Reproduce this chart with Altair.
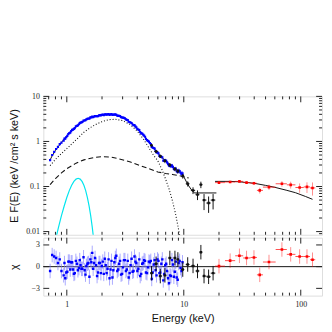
import altair as alt
import pandas as pd

# ---------------- data ----------------
blue_e = [0.72, 0.75, 0.78, 0.81, 0.84, 0.87, 0.90, 0.94, 0.97, 1.01, 1.05, 1.09, 1.13, 1.17, 1.22, 1.27, 1.31, 1.36,
          1.42, 1.47, 1.53, 1.59, 1.65, 1.71, 1.78, 1.85, 1.92, 1.99, 2.07, 2.15, 2.23, 2.32, 2.41, 2.50, 2.60, 2.70,
          2.80, 2.91, 3.02, 3.14, 3.26, 3.38, 3.51, 3.65, 3.79, 3.93, 4.09, 4.24, 4.41, 4.58, 4.75, 4.94, 5.13, 5.32,
          5.53, 5.74, 5.96, 6.19, 6.43, 6.68, 6.94, 7.20, 7.48, 7.77, 8.07, 8.38, 8.70, 9.04, 9.39, 9.75]
blue_f = [0.385, 0.50, 0.59, 0.68, 0.76, 0.87, 0.94, 1.04, 1.16, 1.33, 1.53, 1.70, 1.83, 1.98, 2.22, 2.41, 2.61, 2.73,
          2.92, 3.09, 3.23, 3.41, 3.57, 3.58, 3.65, 3.66, 3.83, 3.87, 3.84, 3.97, 3.98, 3.87, 4.04, 3.92, 3.97, 3.74,
          3.69, 3.45, 3.37, 3.26, 3.00, 2.74, 2.63, 2.38, 2.30, 2.05, 1.83, 1.61, 1.49, 1.35, 1.14, 1.03, 0.925, 0.76,
          0.715, 0.62, 0.575, 0.48, 0.455, 0.375, 0.382, 0.342, 0.29, 0.28, 0.274, 0.242, 0.218, 0.226, 0.203, 0.196]
blue_rel = [0.05, 0.05, 0.04, 0.04, 0.04, 0.04, 0.035, 0.035, 0.03, 0.03, 0.03, 0.03, 0.025, 0.025, 0.025, 0.025, 0.025, 0.025,
            0.025, 0.025, 0.025, 0.025, 0.025, 0.025, 0.025, 0.025, 0.025, 0.025, 0.025, 0.025, 0.025, 0.025, 0.025, 0.025, 0.025, 0.025,
            0.025, 0.025, 0.03, 0.03, 0.03, 0.03, 0.03, 0.035, 0.035, 0.035, 0.04, 0.04, 0.04, 0.045, 0.045, 0.05, 0.05, 0.055,
            0.06, 0.06, 0.065, 0.07, 0.07, 0.075, 0.08, 0.08, 0.085, 0.09, 0.09, 0.1, 0.1, 0.11, 0.11, 0.12]
blue_chi = [-0.6, 1.6, 1.4, 1.2, 0.5, 1.0, -0.6, -1.2, -1.6, -0.7, 0.7, 0.6, -0.4, -0.9, 0.4, -0.2, 0.2, -0.3,
            -0.5, 0.1, 0.5, 1.0, 1.9, 0.5, 0.2, -0.8, 0.5, 0.1, -1.0, 0.2, -0.3, -1.6, 0.8, -0.5, 1.2, -0.6,
            0.4, -1.1, -0.1, 0.9, -0.4, -1.5, 0.2, -0.7, 1.4, 0.5, -0.3, -1.3, 0.4, 0.9, -0.8, -0.1, 0.6, -1.7,
            0.3, -0.5, 1.0, -0.9, 0.4, -1.9, 0.2, -0.6, -2.3, -1.3, 0.3, -0.7, -1.5, 0.5, -0.2, 0.6]

# second interleaved set of blue channels
blue2_e = [0.955, 0.99, 1.03, 1.07, 1.11, 1.15, 1.195, 1.245, 1.29, 1.335, 1.39, 1.445, 1.50, 1.56, 1.62, 1.68,
           1.745, 1.815, 1.885, 1.955, 2.03, 2.11, 2.19, 2.275, 2.365, 2.455, 2.55, 2.65, 2.75, 2.855, 2.965, 3.08,
           3.2, 3.32, 3.445, 3.58, 3.72, 3.86, 4.01, 4.165, 4.325, 4.495, 4.665, 4.845, 5.035, 5.225, 5.425, 5.635,
           5.85, 6.075, 6.31, 6.555, 6.81, 7.07, 7.34, 7.625, 7.92, 8.225, 8.54, 8.87, 9.215, 9.57]
blue2_f = [1.15, 1.25, 1.45, 1.57, 1.80, 1.90, 2.15, 2.28, 2.55, 2.66, 2.91, 2.97, 3.16, 3.22, 3.43, 3.48,
           3.66, 3.62, 3.79, 3.78, 3.93, 3.99, 3.93, 4.05, 3.97, 3.89, 3.94, 3.90, 3.70, 3.63, 3.40, 3.33,
           3.08, 2.96, 2.68, 2.57, 2.29, 2.15, 1.90, 1.79, 1.53, 1.42, 1.27, 1.07, 0.99, 0.87, 0.73, 0.69,
           0.57, 0.545, 0.46, 0.445, 0.38, 0.37, 0.315, 0.29, 0.295, 0.245, 0.25, 0.21, 0.22, 0.19]
blue2_rel = [0.03, 0.03, 0.03, 0.03, 0.03, 0.03, 0.03,
             0.025, 0.025, 0.025, 0.025, 0.025, 0.025, 0.025, 0.025, 0.025, 0.025, 0.025, 0.025,
             0.025, 0.025, 0.025, 0.025, 0.025, 0.025, 0.025, 0.025, 0.025, 0.025, 0.025, 0.025,
             0.03, 0.03, 0.03, 0.03, 0.03, 0.03, 0.03, 0.03,
             0.04, 0.04, 0.04, 0.04, 0.04,
             0.055, 0.055, 0.055, 0.055, 0.055,
             0.07, 0.07, 0.07, 0.07,
             0.085, 0.085, 0.085, 0.085,
             0.1, 0.1, 0.1,
             0.115, 0.115]
blue2_chi = [0.5, -0.8, 0.7, -0.4, 0.6, -1.0, 0.8, -0.5, 0.9, -0.3, 1.3, -1.1, 0.4, -1.4, 0.6, -0.3,
             1.2, -1.3, 0.5, -0.9, 0.7, 1.1, -0.9, 1.0, -0.4, -1.5, 0.6, 1.5, -0.4, 0.8, -1.0, 0.9,
             -0.6, 0.8, -0.9, 1.1, -0.6, 0.7, -0.6, 1.0, -1.0, 0.5, 0.8, -0.9, 0.7, 0.8, -0.8, 0.9,
             -1.2, 0.8, -0.8, 1.0, -1.0, 0.4, -1.6, -1.2, 0.9, -1.4, 0.7, -1.8, 0.8, -0.6]

black_e = [5.3, 5.8, 6.3, 6.9, 7.6, 8.4, 8.9, 9.8, 10.8, 12.0, 13.1, 14.0, 14.9, 16.3, 17.8]
black_elo = [5.15, 5.6, 6.1, 6.7, 7.35, 8.15, 8.65, 9.5, 10.4, 11.5, 12.6, 13.6, 14.45, 15.6, 17.0]
black_ehi = [5.45, 6.0, 6.5, 7.1, 7.85, 8.65, 9.15, 10.1, 11.2, 12.5, 13.6, 14.45, 15.6, 17.0, 18.6]
black_f = [0.82, 0.6, 0.47, 0.37, 0.3, 0.245, 0.22, 0.17, 0.115, 0.082, 0.066, 0.11, 0.05, 0.043, 0.05]
black_flo = [0.77, 0.56, 0.43, 0.33, 0.27, 0.22, 0.195, 0.15, 0.1, 0.068, 0.05, 0.092, 0.03, 0.026, 0.031]
black_fhi = [0.87, 0.64, 0.51, 0.41, 0.33, 0.27, 0.245, 0.19, 0.13, 0.096, 0.082, 0.128, 0.068, 0.06, 0.068]
black_chi = [-0.9, 0.4, -1.3, -1.2, 1.2, 1.2, 1.0, -0.4, 0.3, 0.1, -0.6, 2.0, -1.3, -1.4, -0.9]

red_e = [20, 24.9, 29.9, 34.4, 39.8, 44.6, 53.5, 69, 82, 97.8, 113, 126]
red_elo = [18.5, 22.5, 27.5, 32.2, 37.2, 42.2, 47.5, 61, 76, 90, 106, 120]
red_ehi = [22.5, 27.5, 32.2, 37.2, 42.2, 47.5, 61, 76, 90, 106, 120, 133]
red_f = [0.122, 0.126, 0.13, 0.122, 0.118, 0.082, 0.097, 0.115, 0.109, 0.095, 0.098, 0.093]
red_err = [0.005, 0.006, 0.007, 0.008, 0.009, 0.012, 0.013, 0.016, 0.019, 0.022, 0.026, 0.03]
red_chi = [0.07, 0.83, 1.5, 1.2, 1.27, -1.13, 0.64, 2.37, 1.7, 1.4, 1.4, 0.96]

# total model, one segment per instrument
mod_blue_e = [0.72, 0.75, 0.8, 0.85, 0.9, 0.95, 1.0, 1.1, 1.2, 1.3, 1.4, 1.5, 1.6, 1.8, 2.0, 2.2, 2.4, 2.6, 2.8,
              3.0, 3.3, 3.6, 4.0, 4.5, 5.0, 5.5, 6.0, 6.5, 7.0, 7.5, 8.0, 8.5, 9.0, 9.5, 10.0]
mod_blue_f = [0.39, 0.48, 0.63, 0.78, 0.95, 1.13, 1.31, 1.72, 2.13, 2.55, 2.9, 3.15, 3.37, 3.66, 3.87, 3.99, 3.98, 3.88, 3.66,
              3.4, 2.95, 2.49, 1.95, 1.42, 0.99, 0.72, 0.55, 0.44, 0.375, 0.32, 0.275, 0.245, 0.222, 0.2, 0.18]
mod_black_e = [9.0, 9.5, 10.0, 10.8, 11.5, 12.3, 19.0]
mod_black_f = [0.22, 0.2, 0.165, 0.112, 0.088, 0.072, 0.072]
mod_red_e = [18.5, 20, 25, 30, 40, 50, 60, 75, 90, 110, 126]
mod_red_f = [0.13, 0.13, 0.13, 0.127, 0.118, 0.106, 0.096, 0.083, 0.073, 0.06, 0.052]

# model components
disk_e = [0.72, 0.8, 0.9, 1.0, 1.1, 1.25, 1.4, 1.6, 1.8, 2.0, 2.3, 2.6, 3.0, 3.5, 4.0, 4.5, 5.0, 5.5, 6.0,
          6.5, 7.0, 7.5, 8.0, 8.5, 9.0, 9.5]
disk_f = [0.29, 0.4, 0.54, 0.69, 0.88, 1.2, 1.6, 2.05, 2.45, 2.75, 3.05, 3.1, 2.9, 2.35, 1.7, 1.15, 0.74, 0.5, 0.37,
          0.24, 0.145, 0.087, 0.048, 0.025, 0.0115, 0.0055]
comp_e = [0.72, 0.8, 0.9, 1.0, 1.2, 1.4, 1.7, 2.0, 2.4, 2.8, 3.5, 4.1, 5.0, 6.0, 7.0, 8.0, 9.0, 10.0, 11.0]
comp_f = [0.11, 0.15, 0.2, 0.25, 0.33, 0.39, 0.44, 0.46, 0.45, 0.41, 0.35, 0.30, 0.25, 0.21, 0.195, 0.185, 0.175, 0.165, 0.155]
gau_e = [0.80, 0.85, 0.90, 0.95, 1.00, 1.05, 1.10, 1.15, 1.20, 1.25, 1.30, 1.35, 1.40, 1.45, 1.50, 1.55, 1.60, 1.65, 1.70]
gau_f = [0.0065, 0.0126, 0.0225, 0.037, 0.057, 0.081, 0.107, 0.13, 0.146, 0.152, 0.146, 0.13, 0.107, 0.081, 0.057,
         0.037, 0.0225, 0.0126, 0.0065]

# tick values
x_major = [1, 10, 100]
x_minor = [0.7, 0.8, 0.9, 2, 3, 4, 5, 6, 7, 8, 9, 20, 30, 40, 50, 60, 70, 80, 90]
y_major = [0.01, 0.1, 1, 10]
y_minor = [0.009, 0.02, 0.03, 0.04, 0.05, 0.06, 0.07, 0.08, 0.09, 0.2, 0.3, 0.4, 0.5, 0.6, 0.7, 0.8, 0.9,
           2, 3, 4, 5, 6, 7, 8, 9]
chi_major = [-3, 0, 3]

# ---------------- frames ----------------
W, H1, H2 = 284, 141, 59
FRAME = "#222222"
BLUE = "#0000ff"
BLUE_ERR = "#7a7aff"
RED = "#ff0000"
CYAN = "#00e5ee"
LABFONT = "Liberation Serif"
TITFONT = "Liberation Sans"

xsc = alt.Scale(type="log", domain=[0.63, 152], nice=False)
ysc = alt.Scale(type="log", domain=[0.0085, 10], nice=False)
csc = alt.Scale(domain=[-4, 4], nice=False)

top_yaxis = alt.Axis(values=y_major, format="~g", ticks=False, domain=False, grid=False,
                     labelFont=LABFONT, labelFontSize=8, labelColor="#222222", labelPadding=4,
                     title="E F(E) (keV /cm\u00b2 s keV)", titleFont=TITFONT, titleFontSize=11,
                     titleFontWeight="normal", titleColor="#111111", titleX=-24)
bot_yaxis = alt.Axis(values=chi_major, format="d", ticks=False, domain=False, grid=False,
                     labelFont=LABFONT, labelFontSize=8, labelColor="#222222", labelPadding=4,
                     title="\u03c7", titleFont=TITFONT, titleFontSize=11,
                     titleFontWeight="normal", titleColor="#111111", titleX=-24)
bot_xaxis = alt.Axis(values=x_major, format="~g", ticks=False, domain=False, grid=False,
                     labelFont=LABFONT, labelFontSize=8, labelColor="#222222", labelPadding=5,
                     title="Energy (keV)", titleFont=TITFONT, titleFontSize=11,
                     titleFontWeight="normal", titleColor="#111111", titlePadding=4)


def TX(f):
    return alt.X(f, type="quantitative", scale=xsc, axis=None)


def TY(f):
    return alt.Y(f, type="quantitative", scale=ysc, axis=top_yaxis)


def BX(f):
    return alt.X(f, type="quantitative", scale=xsc, axis=bot_xaxis)


def BY(f):
    return alt.Y(f, type="quantitative", scale=csc, axis=bot_yaxis)


blue = pd.concat([
    pd.DataFrame({"e": blue_e, "f": blue_f, "rel": blue_rel, "chi": blue_chi}),
    pd.DataFrame({"e": blue2_e, "f": blue2_f, "rel": blue2_rel, "chi": blue2_chi}),
], ignore_index=True)
blue["lo"] = blue["f"] * (1 - blue["rel"])
blue["hi"] = blue["f"] * (1 + blue["rel"])
blue["clo"] = blue["chi"] - 1
blue["chi_hi"] = blue["chi"] + 1
black = pd.DataFrame({"e": black_e, "elo": black_elo, "ehi": black_ehi, "f": black_f,
                      "lo": black_flo, "hi": black_fhi, "chi": black_chi})
black["clo"] = black["chi"] - 1
black["chi_hi"] = black["chi"] + 1
red = pd.DataFrame({"e": red_e, "elo": red_elo, "ehi": red_ehi, "f": red_f, "err": red_err, "chi": red_chi})
red["lo"] = red["f"] - red["err"]
red["hi"] = red["f"] + red["err"]
red["clo"] = red["chi"] - 1
red["chi_hi"] = red["chi"] + 1

model = pd.concat([
    pd.DataFrame({"e": mod_blue_e, "f": mod_blue_f, "seg": "a"}),
    pd.DataFrame({"e": mod_black_e, "f": mod_black_f, "seg": "b"}),
    pd.DataFrame({"e": mod_red_e, "f": mod_red_f, "seg": "c"}),
])
disk = pd.DataFrame({"e": disk_e, "f": disk_f})
comp = pd.DataFrame({"e": comp_e, "f": comp_f})
gau = pd.DataFrame({"e": gau_e, "f": gau_f})

xmaj = pd.DataFrame({"v": x_major})
xmin = pd.DataFrame({"v": x_minor})
ymaj = pd.DataFrame({"v": y_major})
ymin = pd.DataFrame({"v": y_minor})
cmaj = pd.DataFrame({"v": chi_major})

MAJ, MIN = 6, 3


def xticks(H, X):
    out = []
    for df, L in ((xmaj, MAJ), (xmin, MIN)):
        out.append(alt.Chart(df).mark_rule(color=FRAME, strokeWidth=1).encode(
            x=X("v"), y=alt.value(H), y2=alt.value(H - L)))
        out.append(alt.Chart(df).mark_rule(color=FRAME, strokeWidth=1).encode(
            x=X("v"), y=alt.value(0), y2=alt.value(L)))
    return out


def yticks(dfs, Y):
    out = []
    for df, L in dfs:
        out.append(alt.Chart(df).mark_rule(color=FRAME, strokeWidth=1).encode(
            y=Y("v"), x=alt.value(0), x2=alt.value(L)))
        out.append(alt.Chart(df).mark_rule(color=FRAME, strokeWidth=1).encode(
            y=Y("v"), x=alt.value(W), x2=alt.value(W - L)))
    return out


# ---------------- top panel ----------------
top_layers = [
    alt.Chart(gau).mark_line(color=CYAN, strokeWidth=1.2, clip=True).encode(x=TX("e"), y=TY("f")),
    alt.Chart(disk).mark_line(color="#111111", strokeWidth=1.1, strokeDash=[1, 2], clip=True).encode(x=TX("e"), y=TY("f")),
    alt.Chart(comp).mark_line(color="#111111", strokeWidth=1.1, strokeDash=[5, 3], clip=True).encode(x=TX("e"), y=TY("f")),
    alt.Chart(blue).mark_rule(color=BLUE_ERR, strokeWidth=1, opacity=0.7, clip=True).encode(x=TX("e"), y=TY("lo"), y2="hi"),
    alt.Chart(model).mark_line(color="#111111", strokeWidth=1, clip=True).encode(x=TX("e"), y=TY("f"), detail="seg"),
    alt.Chart(blue).mark_square(color=BLUE, size=5, opacity=1, clip=True).encode(x=TX("e"), y=TY("f")),
    alt.Chart(black).mark_rule(color="#111111", strokeWidth=1, clip=True).encode(x=TX("e"), y=TY("lo"), y2="hi"),
    alt.Chart(black).mark_rule(color="#111111", strokeWidth=1, clip=True).encode(x=TX("elo"), x2="ehi", y=TY("f")),
    alt.Chart(black).mark_square(color="#111111", size=6, opacity=1, clip=True).encode(x=TX("e"), y=TY("f")),
    alt.Chart(red).mark_rule(color=RED, strokeWidth=1, opacity=0.45, clip=True).encode(x=TX("e"), y=TY("lo"), y2="hi"),
    alt.Chart(red).mark_rule(color=RED, strokeWidth=1, opacity=0.7, clip=True).encode(x=TX("elo"), x2="ehi", y=TY("f")),
    alt.Chart(red).mark_square(color=RED, size=7, opacity=1, clip=True).encode(x=TX("e"), y=TY("f")),
]
top_layers += xticks(H1, TX)
top_layers += yticks(((ymaj, MAJ), (ymin, MIN)), TY)
top = alt.layer(*top_layers).properties(width=W, height=H1)

# ---------------- bottom panel ----------------
zero = pd.DataFrame({"z": [0]})
bot_layers = [
    alt.Chart(zero).mark_rule(color="#111111", strokeWidth=1).encode(y=BY("z")),
    alt.Chart(blue).mark_rule(color=BLUE_ERR, strokeWidth=1, opacity=0.65, clip=True).encode(x=BX("e"), y=BY("clo"), y2="chi_hi"),
    alt.Chart(blue).mark_square(color=BLUE, size=6, opacity=1, clip=True).encode(x=BX("e"), y=BY("chi")),
    alt.Chart(black).mark_rule(color="#111111", strokeWidth=1, clip=True).encode(x=BX("e"), y=BY("clo"), y2="chi_hi"),
    alt.Chart(black).mark_rule(color="#111111", strokeWidth=1, clip=True).encode(x=BX("elo"), x2="ehi", y=BY("chi")),
    alt.Chart(black).mark_square(color="#111111", size=6, opacity=1, clip=True).encode(x=BX("e"), y=BY("chi")),
    alt.Chart(red).mark_rule(color=RED, strokeWidth=1, opacity=0.45, clip=True).encode(x=BX("e"), y=BY("clo"), y2="chi_hi"),
    alt.Chart(red).mark_rule(color=RED, strokeWidth=1, opacity=0.7, clip=True).encode(x=BX("elo"), x2="ehi", y=BY("chi")),
    alt.Chart(red).mark_square(color=RED, size=7, opacity=1, clip=True).encode(x=BX("e"), y=BY("chi")),
]
bot_layers += xticks(H2, BX)
bot_layers += yticks(((cmaj, MAJ),), BY)
bottom = alt.layer(*bot_layers).properties(width=W, height=H2)

chart = alt.vconcat(top, bottom, spacing=0).properties(
    padding={"left": 0, "top": 82, "right": 1, "bottom": 4}
).configure_view(stroke=FRAME, strokeWidth=1).configure(background="white")

chart.save("out.html", embed_options={"renderer": "svg", "actions": False})
